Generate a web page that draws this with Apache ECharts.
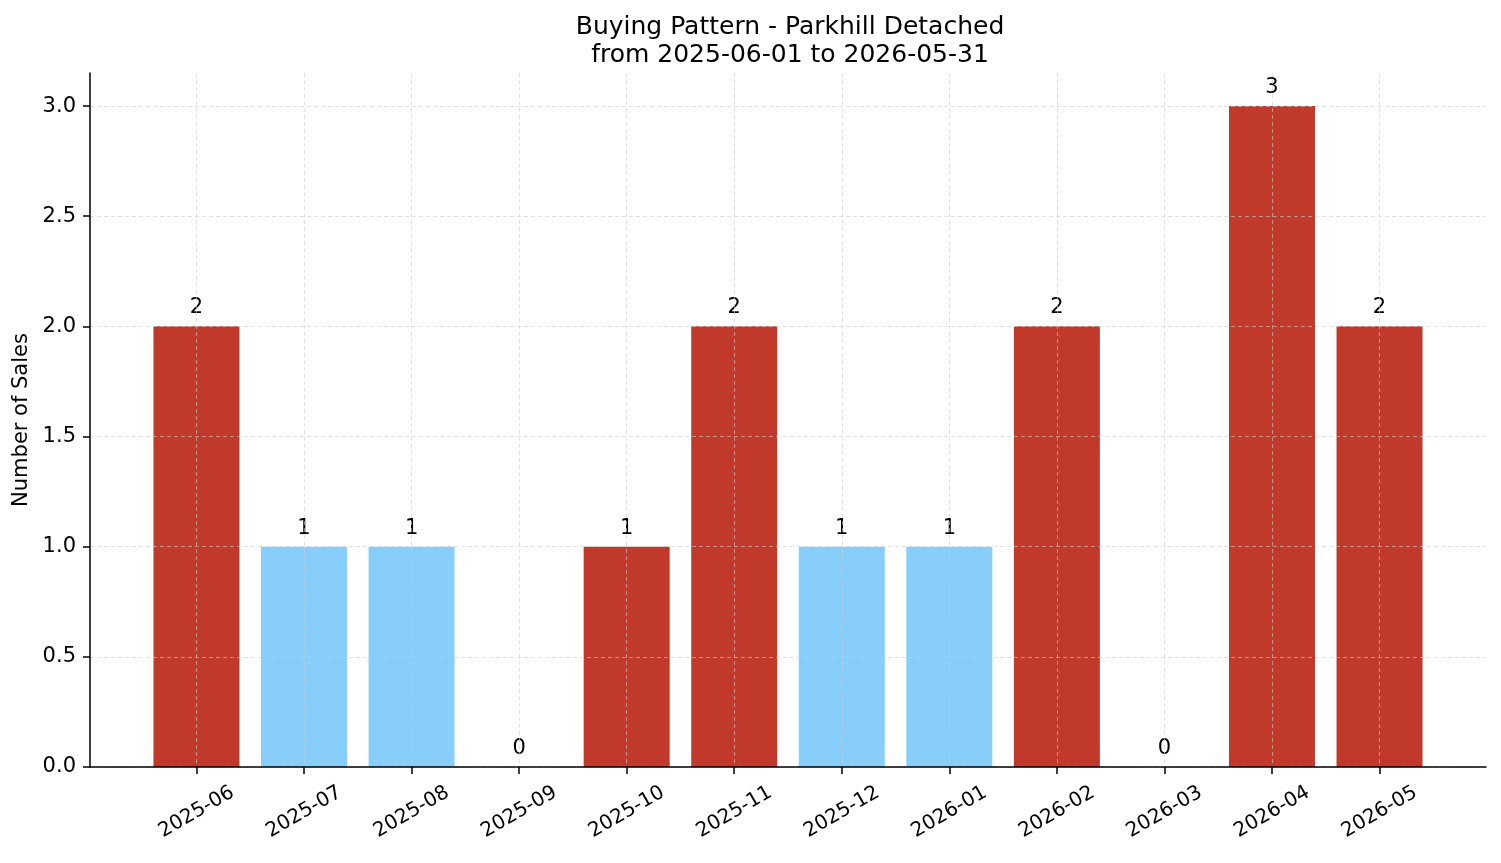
<!DOCTYPE html>
<html>
<head>
<meta charset="utf-8">
<script src="https://cdn.jsdelivr.net/npm/echarts@6/dist/echarts.min.js"></script>
<style>
  html, body { margin: 0; padding: 0; background: #fff; }
  #chart { width: 1501px; height: 863px; }
</style>
</head>
<body>
<div id="chart"></div>
<script>
const months = ['2025-06', '2025-07', '2025-08', '2025-09', '2025-10', '2025-11',
  '2025-12', '2026-01', '2026-02', '2026-03', '2026-04', '2026-05']
const sales = [2, 1, 1, 0, 1, 2, 1, 1, 2, 0, 3, 2]
// which bars are highlighted red (the rest are light blue)
const highlight = [true, false, false, false, true, true, false, false, true, false, true, true]
const yTicks = [0, 0.5, 1, 1.5, 2, 2.5, 3]

const RED = '#c0392b'
const BLUE = '#87cefa'
const FONT = 'DejaVu Sans'
const gridLine = { show: true, lineStyle: { color: 'rgba(205,205,205,0.6)', type: [4, 3], width: 1 } }
const spine = { show: true, onZero: false, lineStyle: { color: '#000', width: 1.5 } }

const xTicks = months.map((m, i) => i)

const chart = echarts.init(document.getElementById('chart'), null, { renderer: 'canvas' })

chart.setOption({
  backgroundColor: '#fff',
  animation: false,
  textStyle: { fontFamily: FONT },
  title: {
    text: 'Buying Pattern - Parkhill Detached\nfrom 2025-06-01 to 2026-05-31',
    left: 785,
    top: 8,
    textAlign: 'center',
    textStyle: { fontFamily: FONT, fontSize: 25, fontWeight: 'normal', color: '#000', lineHeight: 28 }
  },
  grid: { left: 90, right: 15, top: 73, bottom: 96, containLabel: false },
  xAxis: {
    type: 'value',
    min: -0.99,
    max: 11.99,
    z: 3,
    axisLine: spine,
    axisTick: { show: true, customValues: xTicks, length: 7, lineStyle: { color: '#000', width: 1.5 } },
    axisLabel: {
      customValues: xTicks,
      formatter: v => months[Math.round(v)] || '',
      rotate: 30,
      align: 'center',
      verticalAlign: 'middle',
      margin: 45,
      fontSize: 20,
      color: '#000',
      fontFamily: FONT
    },
    splitLine: gridLine
  },
  yAxis: {
    type: 'value',
    min: 0,
    max: 3.15,
    z: 3,
    name: 'Number of Sales',
    nameLocation: 'middle',
    nameGap: 56,
    nameTextStyle: { fontSize: 21, color: '#000', fontFamily: FONT },
    axisLine: spine,
    axisTick: { show: true, customValues: yTicks, length: 7, lineStyle: { color: '#000', width: 1.5 } },
    axisLabel: {
      customValues: yTicks,
      formatter: v => v.toFixed(1),
      margin: 14,
      fontSize: 21,
      color: '#000',
      fontFamily: FONT
    },
    splitLine: gridLine
  },
  series: [{
    type: 'bar',
    barWidth: 86,
    z: 2,
    data: sales.map((v, i) => ({
      value: [i, v],
      itemStyle: { color: highlight[i] ? RED : BLUE }
    })),
    label: {
      show: true,
      position: 'top',
      distance: 8,
      fontSize: 21,
      color: '#000',
      fontFamily: FONT,
      formatter: p => String(p.value[1])
    }
  }]
})
</script>
</body>
</html>
